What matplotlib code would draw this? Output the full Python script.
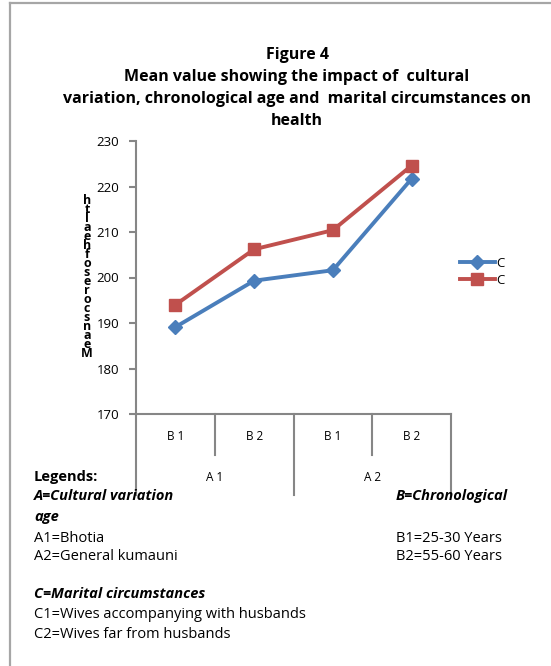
import numpy as np
import matplotlib.pyplot as plt
from matplotlib.lines import Line2D
import matplotlib.transforms as mtransforms

# valores medios
grupos = ["A1", "A2"]
categorias = ["B1", "B2", "B1", "B2"]
serie_c1 = [189.1, 199.3, 201.6, 221.7]
serie_c2 = [194.0, 206.2, 210.4, 224.6]
nombres_series = ["C", "C"]
yticks = [170, 180, 190, 200, 210, 220, 230]

plt.rcParams['font.family'] = ['Open Sans', 'DejaVu Sans']

fig = plt.figure(figsize=(5.51, 6.66), dpi=100)

# borde de la pagina (arriba e izquierda)
fig.add_artist(Line2D([10/551, 10/551], [0, 1 - 3/666], color='#a6a6a6', lw=1.6))
fig.add_artist(Line2D([10/551, 1], [1 - 3/666, 1 - 3/666], color='#a6a6a6', lw=1.6))

ax = fig.add_axes([136/551, 1 - 414/666, 315/551, 273/666])
x = np.arange(len(categorias))
ax.plot(x, serie_c1, color='#4a7ebb', lw=2.8, marker='D', ms=7, label=nombres_series[0])
ax.plot(x, serie_c2, color='#c0504d', lw=2.8, marker='s', ms=8.5, label=nombres_series[1])

ax.set_xlim(-0.5, len(categorias) - 0.5)
ax.set_ylim(170, 230)
ax.set_yticks(yticks)
ax.set_xticks([])
for s in ['top', 'right']:
    ax.spines[s].set_visible(False)
for s in ['left', 'bottom']:
    ax.spines[s].set_color('#868686')
    ax.spines[s].set_linewidth(1.5)
ax.tick_params(axis='y', direction='out', length=5, width=1.5, color='#868686',
               labelsize=9.5, pad=7)

# eje de categorias en dos niveles
tr = mtransforms.blended_transform_factory(ax.transData, ax.transAxes)
for i, c in enumerate(categorias):
    ax.text(i, -0.084, c.replace("B", "B "), transform=tr, ha='center', va='center',
            fontsize=8.5)
for b in [0.5, 2.5]:
    ax.plot([b, b], [0, -0.15], transform=tr, color='#868686', lw=1.5, clip_on=False)
for b in [-0.5, 1.5, 3.5]:
    ax.plot([b, b], [0, -0.297], transform=tr, color='#868686', lw=1.5, clip_on=False)
for j, g in enumerate(grupos):
    ax.text(2 * j + 0.5, -0.234, g.replace("A", "A "), transform=tr, ha='center',
            va='center', fontsize=8.5)

ax.legend(loc='center left', bbox_to_anchor=(1.0, 0.52), frameon=False,
          handlelength=2.6, handletextpad=0.1, labelspacing=0.3, fontsize=9.5,
          borderaxespad=0.3)

# titulo
titulo = ["Figure 4",
          "Mean value showing the impact of  cultural",
          "variation, chronological age and  marital circumstances on",
          "health"]
for k, t in enumerate(titulo):
    fig.text(297/551, 1 - (55 + k * 22)/666, t, ha='center', va='center',
             fontsize=11.5, fontweight='bold')

# etiqueta del eje y (apilada)
etiqueta = "Mean scores of health"
fig.text(87/551, 1 - 277/666, "\n".join(reversed(etiqueta.replace(" ", ""))),
         ha='center', va='center', fontsize=9, fontweight='bold', linespacing=0.6)

# leyendas de texto
def t(xp, yp, s, **kw):
    fig.text(xp/551, 1 - yp/666, s, ha='left', va='center', fontsize=10.5, **kw)

t(34, 477, "Legends:", fontweight='bold')
t(34, 496, "A=Cultural variation", fontweight='bold', style='italic')
t(34, 517, "age", fontweight='bold', style='italic')
t(34, 538, "A1=Bhotia")
t(34, 557, "A2=General kumauni")
t(396, 496, "B=Chronological", fontweight='bold', style='italic')
t(396, 538, "B1=25-30 Years")
t(396, 557, "B2=55-60 Years")
t(34, 594, "C=Marital circumstances", fontweight='bold', style='italic')
t(34, 614, "C1=Wives accompanying with husbands")
t(34, 634, "C2=Wives far from husbands")

fig.savefig("out.png", dpi=100)
